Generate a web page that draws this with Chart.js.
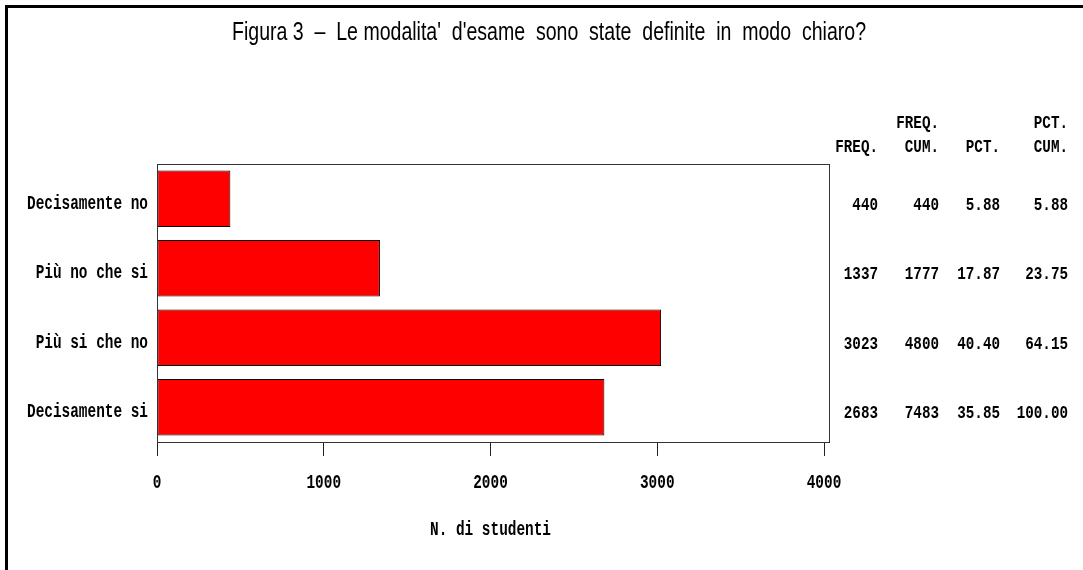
<!DOCTYPE html>
<html>
<head>
<meta charset="utf-8">
<script src="https://cdn.jsdelivr.net/npm/chart.js@4.4.0/dist/chart.umd.min.js"></script>
<style>
  html, body { margin: 0; padding: 0; background: #fff; }
  canvas { display: block; }
</style>
</head>
<body>
<canvas id="chart" width="1083" height="570"></canvas>
<script>
// --- data ---
const titleText = "Figura 3  \u2013  Le modalita'  d'esame  sono  state  definite  in  modo  chiaro?";
const categories = ['Decisamente no', 'Più no che si', 'Più si che no', 'Decisamente si'];
const freq = [440, 1337, 3023, 2683];
const freqCum = [440, 1777, 4800, 7483];
const pct = [5.88, 17.87, 40.40, 35.85];
const pctCum = [5.88, 23.75, 64.15, 100.00];
const xTicks = [0, 1000, 2000, 3000, 4000];
const xTitle = 'N. di studenti';

// header of the statistics table, [line 1, line 2] per column
const statHeaders = [['', 'FREQ.'], ['FREQ.', 'CUM.'], ['', 'PCT.'], ['PCT.', 'CUM.']];

const MONO = 'bold 20px "Liberation Mono", "DejaVu Sans Mono", monospace';
const MONO_SX = 0.72;
const STAT_FONT = 'bold 19px "Liberation Mono", "DejaVu Sans Mono", monospace';
const STAT_SX = 0.75;
const TITLE_FONT = '25px "Liberation Sans", Arial, sans-serif';

function drawText(ctx, str, x, y, align, font, sx) {
    ctx.save();
    ctx.font = font;
    ctx.fillStyle = '#000';
    ctx.textAlign = align;
    ctx.textBaseline = 'alphabetic';
    ctx.translate(x, y);
    ctx.scale(sx, 1);
    ctx.fillText(str, 0, 0);
    ctx.restore();
}

const sasPlugin = {
    id: 'sasText',
    afterDraw(chart) {
        const ctx = chart.ctx;
        const area = chart.chartArea;
        const xs = chart.scales.x;
        const ys = chart.scales.y;

        // outer frame (only top and left edges are in the picture)
        ctx.save();
        ctx.fillStyle = '#000';
        ctx.fillRect(5, 5, 3, 565);
        ctx.fillRect(5, 5, 1078, 3);
        ctx.restore();

        // plot box
        ctx.save();
        ctx.strokeStyle = '#333';
        ctx.lineWidth = 1;
        ctx.strokeRect(Math.round(area.left) + 0.5, Math.round(area.top) + 0.5,
            Math.round(area.right - area.left) + 5, Math.round(area.bottom - area.top));
        ctx.restore();

        // title, condensed sans
        ctx.save();
        ctx.font = TITLE_FONT;
        const tw = ctx.measureText(titleText).width;
        ctx.restore();
        drawText(ctx, titleText, 549, 40, 'center', TITLE_FONT, 634 / tw);

        // category labels
        categories.forEach((c, i) => {
            drawText(ctx, c, 148, ys.getPixelForValue(i) + 10, 'right', MONO, MONO_SX);
        });

        // x tick labels and axis title
        xTicks.forEach(v => {
            drawText(ctx, String(v), xs.getPixelForValue(v), 488, 'center', MONO, MONO_SX);
        });
        drawText(ctx, xTitle, (area.left + area.right) / 2, 535, 'center', MONO, MONO_SX);

        // statistics table
        const colRight = [878, 939, 1000, 1068];
        statHeaders.forEach((h, j) => {
            if (h[0]) drawText(ctx, h[0], colRight[j], 128, 'right', STAT_FONT, STAT_SX);
            drawText(ctx, h[1], colRight[j], 152, 'right', STAT_FONT, STAT_SX);
        });
        categories.forEach((c, i) => {
            const y = ys.getPixelForValue(i) + 11;
            const row = [String(freq[i]), String(freqCum[i]), pct[i].toFixed(2), pctCum[i].toFixed(2)];
            row.forEach((s, j) => drawText(ctx, s, colRight[j], y, 'right', STAT_FONT, STAT_SX));
        });
    }
};

const TICK_LEN = 14;

new Chart(document.getElementById('chart'), {
    type: 'bar',
    data: {
        labels: categories,
        datasets: [{
            data: freq,
            backgroundColor: '#ff0000',
            borderColor: '#000',
            borderWidth: 1,
            borderSkipped: false,
            barPercentage: 0.81,
            categoryPercentage: 1
        }]
    },
    options: {
        indexAxis: 'y',
        responsive: false,
        animation: false,
        devicePixelRatio: 1,
        layout: { padding: { left: 157, right: 1083 - 824, top: 164, bottom: 570 - 442 - TICK_LEN } },
        plugins: { legend: { display: false }, tooltip: { enabled: false }, title: { display: false } },
        scales: {
            x: {
                type: 'linear',
                min: 0,
                max: 4000,
                ticks: { display: false, stepSize: 1000 },
                grid: { drawOnChartArea: false, drawTicks: true, tickLength: TICK_LEN, color: '#222', lineWidth: 1 },
                border: { display: true, color: '#333' }
            },
            y: { display: false }
        }
    },
    plugins: [sasPlugin]
});
</script>
</body>
</html>
